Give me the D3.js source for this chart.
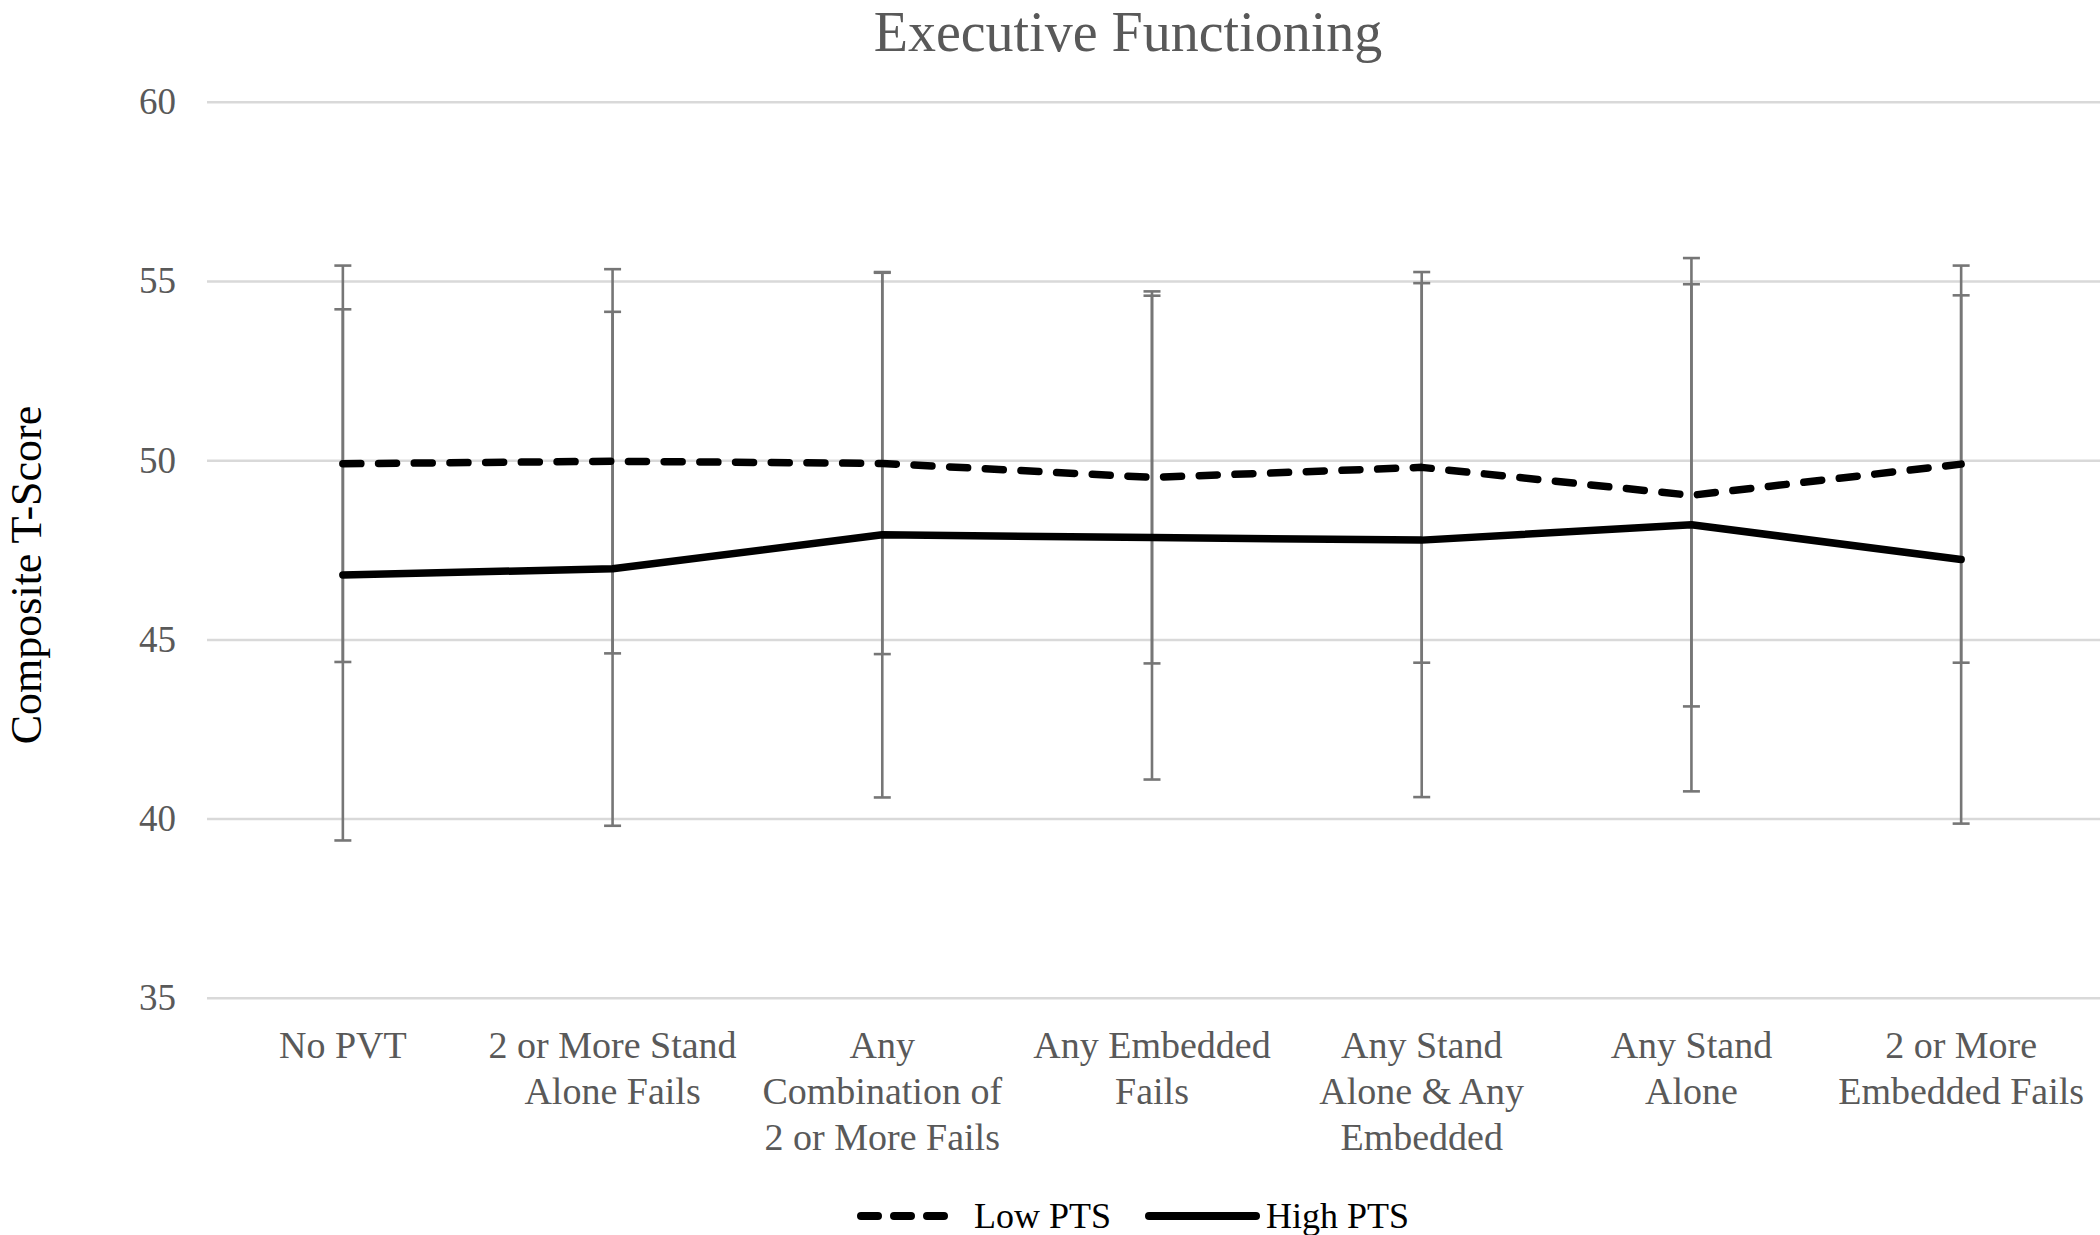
<!DOCTYPE html>
<html>
<head>
<meta charset="utf-8">
<script src="https://cdn.jsdelivr.net/npm/d3@7"></script>
<style>
  html, body { margin: 0; padding: 0; background: #fff; }
  svg { display: block; }
  text { font-family: "Liberation Serif", "Times New Roman", serif; }
</style>
</head>
<body>
<svg id="chart" width="2100" height="1235"></svg>
<script>
// ---- Data ----
const categories = [
  "No PVT",
  "2 or More Stand Alone Fails",
  "Any Combination of 2 or More Fails",
  "Any Embedded Fails",
  "Any Stand Alone & Any Embedded",
  "Any Stand Alone",
  "2 or More Embedded Fails"
];
const categoryLines = [
  ["No PVT"],
  ["2 or More Stand", "Alone Fails"],
  ["Any", "Combination of", "2 or More Fails"],
  ["Any Embedded", "Fails"],
  ["Any Stand", "Alone & Any", "Embedded"],
  ["Any Stand", "Alone"],
  ["2 or More", "Embedded Fails"]
];
const lowPTS      = [49.90, 49.97, 49.91, 49.52, 49.80, 49.02, 49.89];
const lowPTSErr   = [5.53, 5.36, 5.32, 5.19, 5.45, 5.89, 5.54];
const highPTS     = [46.80, 46.97, 47.92, 47.84, 47.77, 48.20, 47.23];
const highPTSErr  = [7.41, 7.17, 7.33, 6.75, 7.17, 7.44, 7.37];
const yTicks = [35, 40, 45, 50, 55, 60];
const seriesNames = ["Low PTS", "High PTS"];
const chartTitle = "Executive Functioning";
const yTitle = "Composite T-Score";

// ---- Layout ----
const svg = d3.select("#chart");
const plotLeft = 208, plotRight = 2096;
const x = d3.scalePoint().domain(categories).range([plotLeft, plotRight]).padding(0.5);
const y = d3.scaleLinear().domain([35, 60]).range([997.8, 101.8]);

const gray = "#595959";
const errColor = "#767676";

// Gridlines
const grid = svg.append("g")
  .attr("transform", `translate(${plotLeft - 1},0)`)
  .call(d3.axisLeft(y).tickValues(yTicks).tickSize(-(2100 - plotLeft + 1)).tickFormat(""));
grid.select(".domain").remove();
grid.selectAll(".tick line").attr("stroke", "#d9d9d9").attr("stroke-width", 2.5);

// Y tick labels
const yAxis = svg.append("g")
  .attr("transform", `translate(176,0)`)
  .call(d3.axisLeft(y).tickValues(yTicks).tickSize(0).tickPadding(0));
yAxis.select(".domain").remove();
yAxis.selectAll(".tick text")
  .attr("fill", gray)
  .style("font-family", "'Liberation Serif', serif")
  .style("font-size", "37px");

// X category labels
const xLab = svg.append("g");
categories.forEach((c, i) => {
  const t = xLab.append("text")
    .attr("x", x(c))
    .attr("y", 1058)
    .attr("text-anchor", "middle")
    .attr("fill", gray)
    .style("font-size", "38px");
  categoryLines[i].forEach((ln, j) => {
    t.append("tspan").attr("x", x(c)).attr("dy", j === 0 ? 0 : 46).text(ln);
  });
});

// Error bars
const cap = 8.5;
function drawErr(means, errs) {
  const g = svg.append("g").attr("stroke", errColor).attr("stroke-width", 2.6).attr("fill", "none");
  categories.forEach((c, i) => {
    const cx = x(c);
    const lo = y(means[i] - errs[i]), hi = y(means[i] + errs[i]);
    g.append("line").attr("x1", cx).attr("x2", cx).attr("y1", lo).attr("y2", hi);
    g.append("line").attr("x1", cx - cap).attr("x2", cx + cap).attr("y1", lo).attr("y2", lo);
    g.append("line").attr("x1", cx - cap).attr("x2", cx + cap).attr("y1", hi).attr("y2", hi);
  });
}
drawErr(highPTS, highPTSErr);
drawErr(lowPTS, lowPTSErr);

// Lines
const line = d3.line().x((d, i) => x(categories[i])).y(d => y(d));
svg.append("path").datum(highPTS)
  .attr("d", line).attr("fill", "none").attr("stroke", "#000")
  .attr("stroke-width", 7.5).attr("stroke-linejoin", "round").attr("stroke-linecap", "round");
svg.append("path").datum(lowPTS)
  .attr("d", line).attr("fill", "none").attr("stroke", "#000")
  .attr("stroke-width", 7.5).attr("stroke-linejoin", "round").attr("stroke-linecap", "round")
  .attr("stroke-dasharray", "18,17.7");

// Title
svg.append("text")
  .attr("x", 1128).attr("y", 51)
  .attr("text-anchor", "middle")
  .attr("fill", gray)
  .style("font-size", "56px")
  .text(chartTitle);

// Y title
svg.append("text")
  .attr("transform", "translate(41,575) rotate(-90)")
  .attr("text-anchor", "middle")
  .attr("fill", "#000")
  .style("font-size", "44px")
  .text(yTitle);

// Legend
const legY = 1216;
const leg = svg.append("g");
leg.append("line").attr("x1", 861).attr("x2", 950).attr("y1", legY).attr("y2", legY)
  .attr("stroke", "#000").attr("stroke-width", 8).attr("stroke-linecap", "round")
  .attr("stroke-dasharray", "17,16");
leg.append("text").attr("x", 974).attr("y", legY + 12).attr("fill", "#000")
  .style("font-size", "36px").text(seriesNames[0]);
leg.append("line").attr("x1", 1149).attr("x2", 1256).attr("y1", legY).attr("y2", legY)
  .attr("stroke", "#000").attr("stroke-width", 8).attr("stroke-linecap", "round");
leg.append("text").attr("x", 1266).attr("y", legY + 12).attr("fill", "#000")
  .style("font-size", "36px").text(seriesNames[1]);
</script>
</body>
</html>
